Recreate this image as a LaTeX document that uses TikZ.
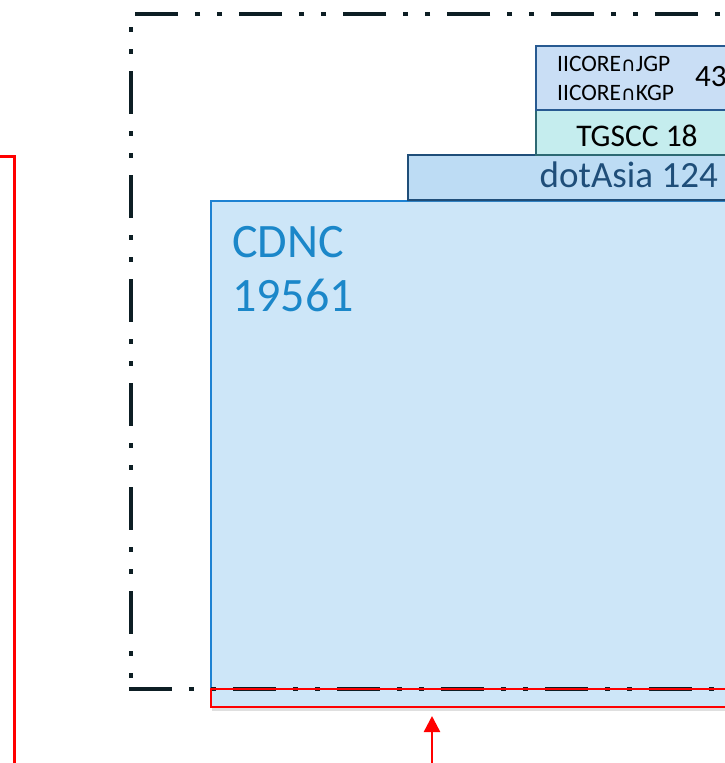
\documentclass[tikz,border=0pt]{standalone}
\usepackage{fontspec}
\setmainfont{Carlito}
\newfontfamily\symfont{DejaVu Sans}
\definecolor{cdncfill}{RGB}{205,230,248}
\definecolor{cdncline}{RGB}{30,130,210}
\definecolor{cdnctext}{RGB}{27,135,201}
\definecolor{dotfill}{RGB}{189,220,244}
\definecolor{dotline}{RGB}{31,78,121}
\definecolor{tgfill}{RGB}{197,237,238}
\definecolor{tgline}{RGB}{45,105,115}
\definecolor{iifill}{RGB}{201,222,245}
\definecolor{iiline}{RGB}{40,90,145}
\definecolor{framecol}{RGB}{13,30,36}
\definecolor{markred}{RGB}{255,0,0}
\usetikzlibrary{arrows.meta,shadows}

\begin{document}
\begin{tikzpicture}[x=1pt,y=-1pt,
  box/.style={rectangle, inner sep=0pt, outer sep=0pt, anchor=north west, line width=1.5pt},
  frameline/.style={draw=framecol, line width=4.5pt, dash pattern=on 43pt off 17pt on 5pt off 17pt on 5pt off 17pt},
  label/.style={inner sep=0pt}]
  \useasboundingbox (0,0) rectangle (725,763);
  \clip (0,0) rectangle (725,763);
  %% left red box
  \draw[markred, line width=3pt] (-10,156.5) -- (14,156.5) -- (14,780);
  %% CDNC block
  \node[box, draw=cdncline, fill=cdncfill, line width=1.6pt, minimum width=560pt, minimum height=506pt,
    drop shadow={shadow xshift=1pt, shadow yshift=-4pt, opacity=0.25}] (cdnc) at (211,201) {};
  \node[label, anchor=base west, text=cdnctext, font=\fontsize{48}{48}\selectfont] (cdncname) at (232,257) {CDNC};
  \node[label, anchor=base west, text=cdnctext, font=\fontsize{48}{48}\selectfont] (cdncnum) at (232,311) {19561};
  %% dash-dot frame
  \draw[frameline, dash phase=42pt] (760,14) -- (131,14) -- (131,689);
  \draw[frameline] (128.75,689) -- (760,689);
  %% red strip at the bottom
  \node[box, draw=markred, line width=2.2pt, minimum width=560pt, minimum height=18pt] (strip) at (211,689) {};
  %% upper blocks
  \node[box, draw=dotline, fill=dotfill, minimum width=340pt, minimum height=45pt,
    drop shadow={shadow xshift=1pt, shadow yshift=-2pt, opacity=0.2}] (dotasia) at (408,155) {};
  \node[box, draw=tgline, fill=tgfill, minimum width=220pt, minimum height=45pt] (tgscc) at (536,110) {};
  \node[box, draw=iiline, fill=iifill, minimum width=220pt, minimum height=64pt] (iicore) at (536,46) {};
  \node[label, anchor=base east, text=dotline, font=\fontsize{37}{37}\selectfont] (dotname) at (718,187) {dotAsia 124};
  \node[label, anchor=base, font=\fontsize{31.5}{31.5}\selectfont] (tgname) at (637,146) {TGSCC 18};
  \node[label, anchor=base west, font=\fontsize{23.5}{23.5}\selectfont] (jgp) at (557,71.7) {IICORE{\symfont\fontsize{20}{20}\selectfont ∩}JGP};
  \node[label, anchor=base west, font=\fontsize{23.5}{23.5}\selectfont] (kgp) at (557,100) {IICORE{\symfont\fontsize{20}{20}\selectfont ∩}KGP};
  \node[label, anchor=base west, font=\fontsize{31}{31}\selectfont] (iitotal) at (695,86) {43};
  %% arrow to the strip
  \coordinate (arrowtail) at (432,770);
  \draw[markred, line width=2.5pt, -{Triangle[width=16pt,length=16pt]}, shorten >=9pt] (arrowtail) -- (arrowtail |- strip.south);
\end{tikzpicture}
\end{document}
